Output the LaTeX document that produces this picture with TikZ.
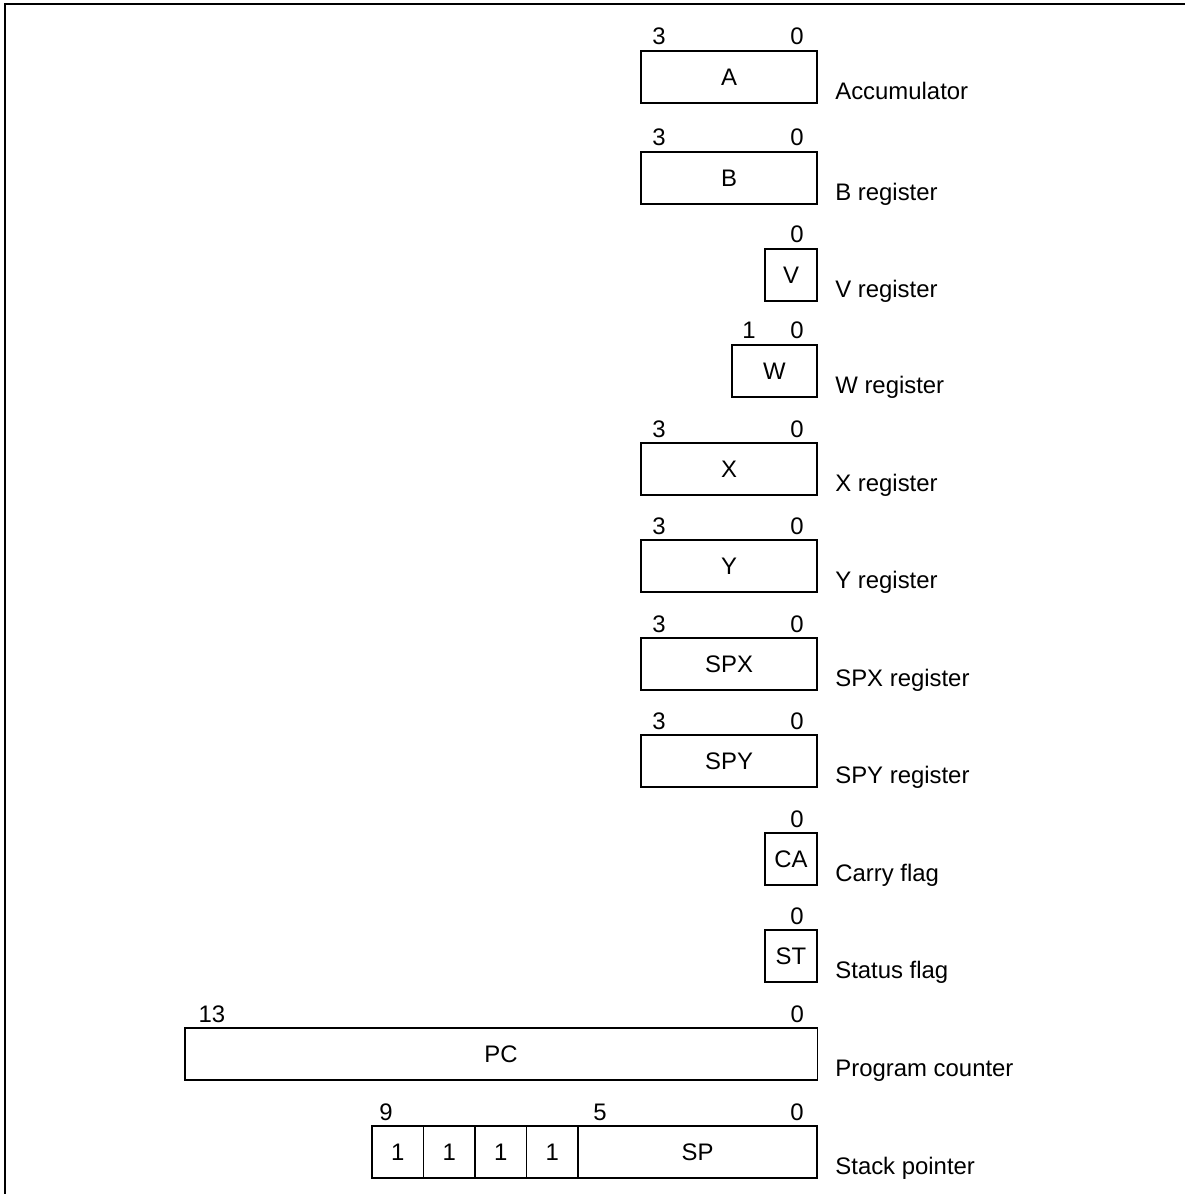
\documentclass[tikz,border=0pt]{standalone}
\usepackage{fontspec}
\setmainfont{Liberation Sans}
\usepackage{tikz}
\usetikzlibrary{positioning,calc}

\begin{document}
\begin{tikzpicture}[x=0.025cm,y=-0.025cm,
  every node/.style={font=\fontsize{17}{20}\selectfont},
  regbox/.style={draw,line width=0.9pt,rectangle,inner sep=0pt,outer sep=0pt,anchor=north west,minimum height=1.3cm},
  nibble/.style={regbox,minimum width=4.4cm},
  bitbox/.style={regbox,minimum width=1.3cm},
  onebox/.style={regbox,minimum width=1.2875cm},
  bitno/.style={anchor=base,inner sep=0pt},
  regname/.style={anchor=base west,inner sep=0pt}]
  \useasboundingbox (0,0) rectangle (1187,1194);
  \draw[line width=1.2pt] (5,1194) -- (5,4) -- (1185,4);

  % registers
  \node[nibble] (acc) at (641,51) {A};
  \node[nibble] (breg) at (641,152) {B};
  \node[bitbox] (vreg) at (765,249) {V};
  \node[regbox,minimum width=2.125cm] (wreg) at (732,345) {W};
  \node[nibble] (xreg) at (641,443) {X};
  \node[nibble] (yreg) at (641,540) {Y};
  \node[nibble] (spx) at (641,638) {SPX};
  \node[nibble] (spy) at (641,735) {SPY};
  \node[bitbox] (ca) at (765,833) {CA};
  \node[bitbox] (st) at (765,930) {ST};
  \node[regbox,minimum width=15.8cm] (pc) at (185,1028) {PC};

  % stack pointer
  \node[onebox] (one1) at (372,1126) {1};
  \node[onebox,right=0pt of one1.north east,anchor=north west] (one2) {1};
  \node[onebox,right=0pt of one2.north east,anchor=north west] (one3) {1};
  \node[onebox,right=0pt of one3.north east,anchor=north west] (one4) {1};
  \node[regbox,minimum width=5.975cm,right=0pt of one4.north east,anchor=north west] (sp) {SP};

  % bit numbers
  \foreach \r in {acc,breg,xreg,yreg,spx,spy}{
    \node[bitno] at ($(\r.north west)+(18,-6)$) {3};
    \node[bitno] at ($(\r.north east)+(-20,-6)$) {0};
  }
  \foreach \r in {vreg,wreg,ca,st,pc,sp}
    \node[bitno] at ($(\r.north east)+(-20,-6)$) {0};
  \node[bitno] at ($(wreg.north west)+(17,-6)$) {1};
  \node[bitno] at ($(pc.north west)+(27,-6)$) {13};
  \node[bitno] at ($(one1.north west)+(14,-6)$) {9};
  \node[bitno] at ($(sp.north west)+(22,-6)$) {5};

  % register names
  \node[regname] at ($(acc.south east)+(18,-4)$) {Accumulator};
  \node[regname] at ($(breg.south east)+(18,-4)$) {B register};
  \node[regname] at ($(vreg.south east)+(18,-4)$) {V register};
  \node[regname] at ($(wreg.south east)+(18,-4)$) {W register};
  \node[regname] at ($(xreg.south east)+(18,-4)$) {X register};
  \node[regname] at ($(yreg.south east)+(18,-4)$) {Y register};
  \node[regname] at ($(spx.south east)+(18,-4)$) {SPX register};
  \node[regname] at ($(spy.south east)+(18,-4)$) {SPY register};
  \node[regname] at ($(ca.south east)+(18,-4)$) {Carry flag};
  \node[regname] at ($(st.south east)+(18,-4)$) {Status flag};
  \node[regname] at ($(pc.south east)+(18,-4)$) {Program counter};
  \node[regname] at ($(sp.south east)+(18,-4)$) {Stack pointer};
\end{tikzpicture}
\end{document}
